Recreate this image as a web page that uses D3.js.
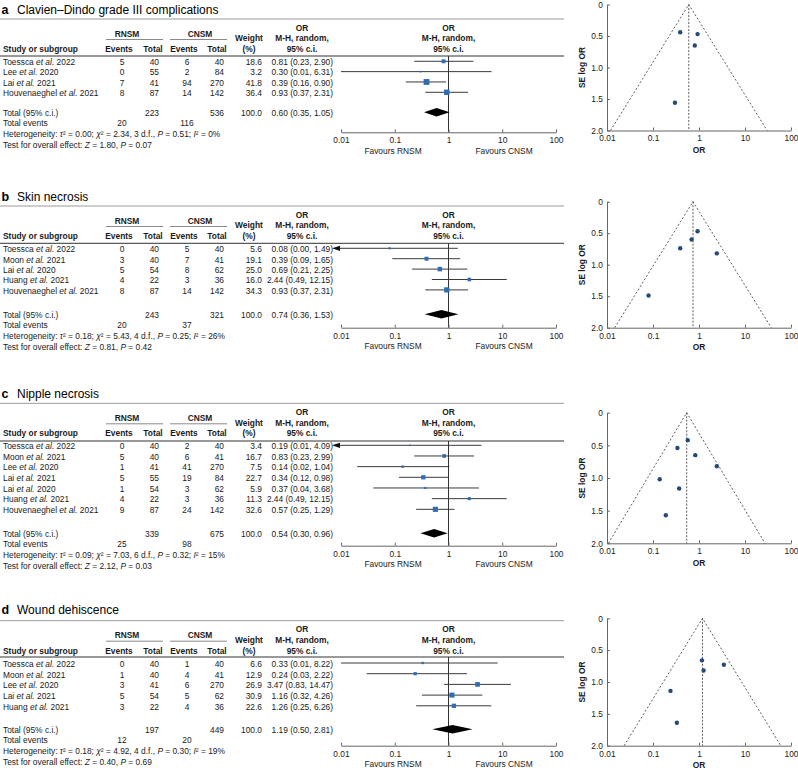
<!DOCTYPE html>
<html><head><meta charset="utf-8">
<script src="https://cdnjs.cloudflare.com/ajax/libs/d3/7.8.5/d3.min.js"></script>
<style>
html,body{margin:0;padding:0;background:#fff;}
svg text{font-family:"Liberation Sans",Arial,sans-serif;white-space:pre;}
</style>
</head><body>
<svg id="chart" width="798" height="774"></svg>
<script>
// ---------------- DATA ----------------
const panelLetters = ["a", "b", "c", "d"];
const outcomes = ["Clavien–Dindo grade III complications", "Skin necrosis", "Nipple necrosis", "Wound dehiscence"];
const studies = [
  ["Toessca", "Lee", "Lai", "Houvenaeghel"],
  ["Toessca", "Moon", "Lai", "Huang", "Houvenaeghel"],
  ["Toessca", "Moon", "Lee", "Lai", "Lai", "Huang", "Houvenaeghel"],
  ["Toessca", "Moon", "Lee", "Lai", "Huang"]
];
const years = [
  [2022, 2020, 2021, 2021],
  [2022, 2021, 2020, 2021, 2021],
  [2022, 2021, 2020, 2021, 2020, 2021, 2021],
  [2022, 2021, 2020, 2021, 2021]
];
const rnsmEvents = [[5, 0, 7, 8], [0, 3, 5, 4, 8], [0, 5, 1, 5, 1, 4, 9], [0, 1, 3, 5, 3]];
const rnsmTotal = [[40, 55, 41, 87], [40, 40, 54, 22, 87], [40, 40, 41, 55, 54, 22, 87], [40, 40, 41, 54, 22]];
const cnsmEvents = [[6, 2, 94, 14], [5, 7, 8, 3, 14], [2, 6, 41, 19, 3, 3, 24], [1, 4, 6, 5, 4]];
const cnsmTotal = [[40, 84, 270, 142], [40, 41, 62, 36, 142], [40, 41, 270, 84, 62, 36, 142], [40, 41, 270, 62, 36]];
const weights = [[18.6, 3.2, 41.8, 36.4], [5.6, 19.1, 25.0, 16.0, 34.3], [3.4, 16.7, 7.5, 22.7, 5.9, 11.3, 32.6], [6.6, 12.9, 26.9, 30.9, 22.6]];
const orValues = [[0.81, 0.30, 0.39, 0.93], [0.08, 0.39, 0.69, 2.44, 0.93], [0.19, 0.83, 0.14, 0.34, 0.37, 2.44, 0.57], [0.33, 0.24, 3.47, 1.16, 1.26]];
const ciLower = [[0.23, 0.01, 0.16, 0.37], [0.00, 0.09, 0.21, 0.49, 0.37], [0.01, 0.23, 0.02, 0.12, 0.04, 0.49, 0.25], [0.01, 0.03, 0.83, 0.32, 0.25]];
const ciUpper = [[2.90, 6.31, 0.90, 2.31], [1.49, 1.65, 2.25, 12.15, 2.31], [4.09, 2.99, 1.04, 0.98, 3.68, 12.15, 1.29], [8.22, 2.22, 14.47, 4.26, 6.26]];
const ciOffScaleLeft = [[false, false, false, false], [true, false, false, false, false], [true, false, false, false, false, false, false], [false, false, false, false, false]];
const seLogOR = [[0.65, 1.56, 0.44, 0.47], [1.49, 0.74, 0.60, 0.82, 0.47], [1.57, 0.65, 1.02, 0.54, 1.16, 0.82, 0.42], [1.64, 1.14, 0.73, 0.66, 0.82]];

const totalRnsm = [223, 243, 339, 197];
const totalCnsm = [536, 321, 675, 449];
const totalEventsRnsm = [20, 20, 25, 12];
const totalEventsCnsm = [116, 37, 98, 20];
const pooledOR = [0.60, 0.74, 0.54, 1.19];
const pooledLower = [0.35, 0.36, 0.30, 0.50];
const pooledUpper = [1.05, 1.53, 0.96, 2.81];
const tau2 = ["0.00", "0.18", "0.09", "0.18"];
const chi2 = ["2.34", "5.43", "7.03", "4.92"];
const dfHet = [3, 4, 6, 4];
const pHet = ["0.51", "0.25", "0.32", "0.30"];
const i2 = [0, 26, 15, 19];
const zOverall = ["1.80", "0.81", "2.12", "0.40"];
const pOverall = ["0.07", "0.42", "0.03", "0.69"];

const orTicks = [0.01, 0.1, 1, 10, 100];
const orTickLabels = ["0.01", "0.1", "1", "10", "100"];
const seTicks = [0, 0.5, 1, 1.5, 2];
const seTickLabels = ["0", "0.5", "1.0", "1.5", "2.0"];

// ---------------- LAYOUT ----------------
const layout = [
  {title: 10, top: 19, hdr: 56, row0: 61.3, step: 10.33, tot: 112.3, axis: 132.3, fTop: 4.5, fBot: 130.5},
  {title: 197, top: 206, hdr: 243.3, row0: 248.3, step: 10.4, tot: 314.3, axis: 327.7, fTop: 201.7, fBot: 327.7},
  {title: 393.3, top: 403.3, hdr: 441, row0: 445.3, step: 10.67, tot: 533.3, axis: 545.7, fTop: 412.7, fBot: 543.3},
  {title: 610, top: 620.7, hdr: 657, row0: 663, step: 10.7, tot: 729.3, axis: 745.7, fTop: 618.3, fBot: 745.7}
];
const FS = 8.4;
const TXT = "#1a1a1a";
const SQ = "#2e6db4";
const DOT = "#234a78";

const svg = d3.select("#chart");
const xForest = d3.scaleLog().domain([0.01, 100]).range([341, 556]);
const xFunnel = d3.scaleLog().domain([0.01, 100]).range([607, 791]);

function addText(g, x, y, anchor, parts, opts = {}) {
  const t = g.append("text").attr("x", x).attr("y", y).attr("text-anchor", anchor)
    .attr("font-size", opts.size || FS).attr("fill", opts.fill || TXT);
  if (opts.bold) t.attr("font-weight", "bold");
  if (typeof parts === "string") parts = [[parts, ""]];
  parts.forEach(([s, st]) => {
    const ts = t.append("tspan").text(s);
    if (st.includes("i")) ts.attr("font-style", "italic");
    if (st.includes("b")) ts.attr("font-weight", "bold");
  });
  return t;
}
function hline(g, x1, x2, y, color, w = 1) {
  g.append("line").attr("x1", x1).attr("x2", x2).attr("y1", y).attr("y2", y)
    .attr("stroke", color).attr("stroke-width", w);
}

panelLetters.forEach((letter, p) => {
  const L = layout[p];
  const g = svg.append("g");

  // title
  addText(g, 1.5, L.title + 4.4, "start", letter, {size: 12.5, bold: true, fill: "#000"});
  addText(g, 17, L.title + 4.4, "start", outcomes[p], {size: 12, fill: "#000"});

  // table rules
  hline(g, 0, 564, L.top, "#9a9a9a", 1);
  hline(g, 0, 564, L.hdr, "#333", 1);
  hline(g, 106, 163, L.top + 20.5, "#8a8a8a", 1);
  hline(g, 170, 227, L.top + 20.5, "#8a8a8a", 1);

  // header
  const hb = {bold: true};
  addText(g, 127, L.top + 17.5, "middle", "RNSM", hb);
  addText(g, 200, L.top + 17.5, "middle", "CNSM", hb);
  addText(g, 3, L.top + 33, "start", "Study or subgroup", hb);
  addText(g, 119, L.top + 33, "middle", "Events", hb);
  addText(g, 153, L.top + 33, "middle", "Total", hb);
  addText(g, 184, L.top + 33, "middle", "Events", hb);
  addText(g, 217, L.top + 33, "middle", "Total", hb);
  addText(g, 249, L.top + 22.3, "middle", "Weight", hb);
  addText(g, 249, L.top + 33, "middle", "(%)", hb);
  [302, xForest(1)].forEach(cx => {
    addText(g, cx, L.top + 11.5, "middle", "OR", hb);
    addText(g, cx, L.top + 22.3, "middle", "M-H, random,", hb);
    addText(g, cx, L.top + 33, "middle", "95% c.i.", hb);
  });

  // study rows
  const rowY = i => L.row0 + i * L.step;
  studies[p].forEach((name, i) => {
    const y = rowY(i) + 3.8;
    addText(g, 3, y, "start", [[name + " ", ""], ["et al.", "i"], [" " + years[p][i], ""]]);
    addText(g, 122, y, "middle", String(rnsmEvents[p][i]));
    addText(g, 159, y, "end", String(rnsmTotal[p][i]));
    addText(g, 187, y, "middle", String(cnsmEvents[p][i]));
    addText(g, 224, y, "end", String(cnsmTotal[p][i]));
    addText(g, 262, y, "end", weights[p][i].toFixed(1));
    addText(g, 333, y, "end", `${orValues[p][i].toFixed(2)} (${ciLower[p][i].toFixed(2)}, ${ciUpper[p][i].toFixed(2)})`);
  });

  // totals
  const T = L.tot;
  addText(g, 3, T + 3.8, "start", "Total (95% c.i.)");
  addText(g, 159, T + 3.8, "end", String(totalRnsm[p]));
  addText(g, 224, T + 3.8, "end", String(totalCnsm[p]));
  addText(g, 262, T + 3.8, "end", "100.0");
  addText(g, 333, T + 3.8, "end", `${pooledOR[p].toFixed(2)} (${pooledLower[p].toFixed(2)}, ${pooledUpper[p].toFixed(2)})`);
  addText(g, 3, T + 10.5 + 3.4, "start", "Total events");
  addText(g, 122, T + 10.5 + 3.4, "middle", String(totalEventsRnsm[p]));
  addText(g, 187, T + 10.5 + 3.4, "middle", String(totalEventsCnsm[p]));
  addText(g, 3, T + 21.3 + 3.4, "start", [
    ["Heterogeneity: ", ""], ["τ", "i"], ["² = " + tau2[p] + "; ", ""], ["χ", "i"],
    ["² = " + chi2[p] + ", " + dfHet[p] + " d.f., ", ""], ["P", "i"], [" = " + pHet[p] + "; ", ""],
    ["I", "i"], ["² = " + i2[p] + "%", ""]]);
  addText(g, 3, T + 32.2 + 3.4, "start", [
    ["Test for overall effect: ", ""], ["Z", "i"], [" = " + zOverall[p] + ", ", ""], ["P", "i"], [" = " + pOverall[p], ""]]);

  // forest plot
  const fg = g.append("g");
  fg.append("line").attr("x1", xForest(1)).attr("x2", xForest(1)).attr("y1", L.hdr).attr("y2", L.axis)
    .attr("stroke", "#333").attr("stroke-width", 1);
  studies[p].forEach((_, i) => {
    const y = rowY(i);
    const off = ciOffScaleLeft[p][i];
    const x0 = off ? xForest(0.01) - 9 : xForest(Math.max(ciLower[p][i], 0.01));
    const x1 = xForest(Math.min(ciUpper[p][i], 100));
    fg.append("line").attr("x1", off ? x0 + 7 : x0).attr("x2", x1).attr("y1", y).attr("y2", y)
      .attr("stroke", "#3a3a3a").attr("stroke-width", 1);
    if (off) {
      fg.append("path").attr("d", `M${x0},${y} L${x0 + 8},${y - 2.6} L${x0 + 8},${y + 2.6} Z`).attr("fill", "#111");
    }
    const s = Math.max(1.6, 0.9 * Math.sqrt(weights[p][i]));
    fg.append("rect").attr("x", xForest(orValues[p][i]) - s / 2).attr("y", y - s / 2)
      .attr("width", s).attr("height", s).attr("fill", SQ);
  });
  const dl = xForest(pooledLower[p]), dm = xForest(pooledOR[p]), dr = xForest(pooledUpper[p]);
  fg.append("path").attr("d", `M${dl},${T} L${dm},${T - 4.2} L${dr},${T} L${dm},${T + 4.2} Z`).attr("fill", "#000");
  // forest axis
  const fa = fg.append("g").attr("transform", `translate(0,${L.axis})`)
    .call(d3.axisBottom(xForest).tickValues(orTicks).tickFormat((d, i) => orTickLabels[i]).tickSizeInner(-3).tickSizeOuter(0).tickPadding(5));
  fa.select(".domain").attr("stroke", "#666");
  fa.selectAll(".tick line").attr("stroke", "#666");
  fa.selectAll(".tick text").attr("font-size", FS).attr("fill", TXT).attr("font-family", "Liberation Sans, Arial, sans-serif");
  addText(g, 393, L.axis + 21.5, "middle", "Favours RNSM");
  addText(g, 504, L.axis + 21.5, "middle", "Favours CNSM");

  // funnel plot
  const yF = d3.scaleLinear().domain([0, 2]).range([L.fTop, L.fBot]);
  const ug = g.append("g");
  const ax = ug.append("g").attr("transform", `translate(0,${L.fBot})`)
    .call(d3.axisBottom(xFunnel).tickValues(orTicks).tickFormat((d, i) => orTickLabels[i]).tickSizeInner(-3).tickSizeOuter(0).tickPadding(5));
  const ay = ug.append("g").attr("transform", `translate(${xFunnel(0.01)},0)`)
    .call(d3.axisLeft(yF).tickValues(seTicks).tickFormat((d, i) => seTickLabels[i]).tickSizeInner(-3).tickSizeOuter(0).tickPadding(4));
  [ax, ay].forEach(a => {
    a.select(".domain").attr("stroke", "#666");
    a.selectAll(".tick line").attr("stroke", "#666");
    a.selectAll(".tick text").attr("font-size", FS).attr("fill", TXT).attr("font-family", "Liberation Sans, Arial, sans-serif");
  });
  const pc = pooledOR[p];
  const lo = pc * Math.exp(-1.96 * 2), hi = pc * Math.exp(1.96 * 2);
  ug.append("path").attr("d", `M${xFunnel(lo)},${yF(2)} L${xFunnel(pc)},${yF(0)} L${xFunnel(hi)},${yF(2)}`)
    .attr("fill", "none").attr("stroke", "#333").attr("stroke-width", 0.8).attr("stroke-dasharray", "2,2");
  ug.append("line").attr("x1", xFunnel(pc)).attr("x2", xFunnel(pc)).attr("y1", yF(0)).attr("y2", yF(2))
    .attr("stroke", "#333").attr("stroke-width", 0.8).attr("stroke-dasharray", "2,1.5");
  ug.selectAll("circle.pt").data(orValues[p]).enter().append("circle")
    .attr("cx", d => xFunnel(d)).attr("cy", (d, i) => yF(seLogOR[p][i])).attr("r", 2.2).attr("fill", DOT);
  addText(g, xFunnel(1), L.fBot + 22.5, "middle", "OR", {bold: true});
  addText(g, 0, 0, "middle", "SE log OR", {bold: true})
    .attr("transform", `translate(585,${(L.fTop + L.fBot) / 2}) rotate(-90)`);
});
</script>
</body></html>
